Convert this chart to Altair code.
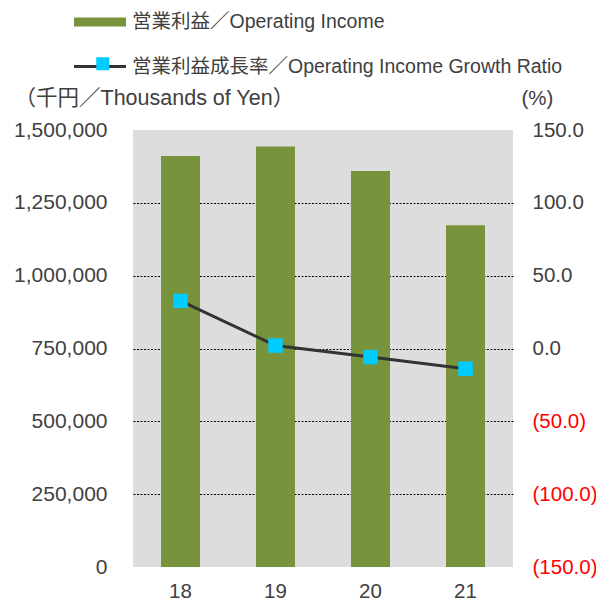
import altair as alt
import pandas as pd

years = ["18", "19", "20", "21"]
income = [1411000, 1443000, 1359000, 1173000]
growth = [32.7, 2.0, -5.9, -13.9]

label_income = "営業利益／Operating Income"
label_growth = "営業利益成長率／Operating Income Growth Ratio"

df = pd.DataFrame({"year": years, "income": income, "growth": growth})

FONT = "Liberation Sans, Arial, Noto Sans CJK JP"
TXT = "#404040"

base = alt.Chart(df)

x_enc = alt.X("year:N", title=None,
              scale=alt.Scale(paddingInner=0.59, paddingOuter=0.295),
              axis=alt.Axis(labelAngle=0, labelFontSize=20.5, labelColor=TXT,
                            labelPadding=14, domain=False, ticks=False))

bars = base.transform_calculate(s1=f"'{label_income}'").mark_bar(size=39).encode(
    x=x_enc,
    y=alt.Y("income:Q",
            scale=alt.Scale(domain=[0, 1500000], nice=False, zero=True),
            axis=alt.Axis(values=[0, 250000, 500000, 750000, 1000000, 1250000, 1500000],
                          format=",.0f", labelFontSize=21, labelColor=TXT, labelPadding=26,
                          domain=False, ticks=False,
                          grid=True, gridColor="#000000", gridDash=[2, 1.5], gridWidth=1,
                          gridOpacity={"condition": {"test": "datum.value == 0 || datum.value == 1500000", "value": 0}, "value": 1},
                          title="（千円／Thousands of Yen）", titleAngle=0, titleAlign="left",
                          titleBaseline="alphabetic", titleX=-119, titleY=-26,
                          titleFontSize=21.5, titleFontWeight="normal", titleColor=TXT)),
    color=alt.Color("s1:N",
                    scale=alt.Scale(domain=[label_income], range=["#77933c"]),
                    legend=alt.Legend(orient="none", legendX=-59, legendY=-134, title=None,
                                      symbolType="M-1,-0.17H1V0.17H-1Z", symbolSize=2704,
                                      symbolStrokeWidth=0, symbolOpacity=1, padding=0,
                                      labelFontSize=19.5, labelColor=TXT, labelOffset=6,
                                      labelLimit=600)),
)

y_right = alt.Y("growth:Q",
                scale=alt.Scale(domain=[-150, 150], nice=False, zero=False),
                axis=alt.Axis(orient="right", values=[-150, -100, -50, 0, 50, 100, 150],
                              labelExpr="datum.value < 0 ? '(' + format(-datum.value, '.1f') + ')' : format(datum.value, '.1f')",
                              labelColor={"condition": {"test": "datum.value < 0", "value": "#ff0000"}, "value": TXT},
                              labelFontSize=20.5, labelAlign="left", labelPadding=19,
                              domain=False, ticks=False, grid=False,
                              title="(%)", titleAngle=0, titleAlign="left",
                              titleBaseline="alphabetic", titleX=8, titleY=-26,
                              titleFontSize=20.5, titleFontWeight="normal", titleColor=TXT))

line = base.transform_calculate(s2=f"'{label_growth}'").mark_line(strokeWidth=3).encode(
    x=alt.X("year:N"),
    y=y_right,
    stroke=alt.Stroke("s2:N",
                      scale=alt.Scale(domain=[label_growth], range=["#333333"]),
                      legend=alt.Legend(orient="none", legendX=-60.5, legendY=-91, title=None,
                                        symbolType="stroke", symbolSize=2704,
                                        symbolStrokeWidth=3, padding=0,
                                        labelFontSize=19.5, labelColor=TXT, labelOffset=4.5,
                                        labelLimit=600)),
)

squares = base.transform_calculate(s3="'sq'").mark_square(size=210, opacity=1, filled=True).encode(
    x=alt.X("year:N"),
    y=alt.Y("growth:Q"),
    fill=alt.Fill("s3:N",
                  scale=alt.Scale(domain=["sq"], range=["#00ccff"]),
                  legend=alt.Legend(orient="none", legendX=-40, legendY=-76, title=None,
                                    symbolType="square", symbolSize=169,
                                    symbolStrokeWidth=0, symbolOpacity=1, padding=0,
                                    labelFontSize=19.5, labelExpr="''")),
)

right_layer = alt.layer(line, squares)

chart = alt.layer(bars, right_layer).resolve_scale(
    y="independent", color="independent"
).properties(
    width=380, height=437,
    padding={"left": 125, "top": 122, "right": 83, "bottom": 33},
    autosize="none",
).configure(font=FONT).configure_view(fill="#dddddd", stroke=None)

chart.save("out.html", embed_options={"renderer": "svg", "actions": False})
